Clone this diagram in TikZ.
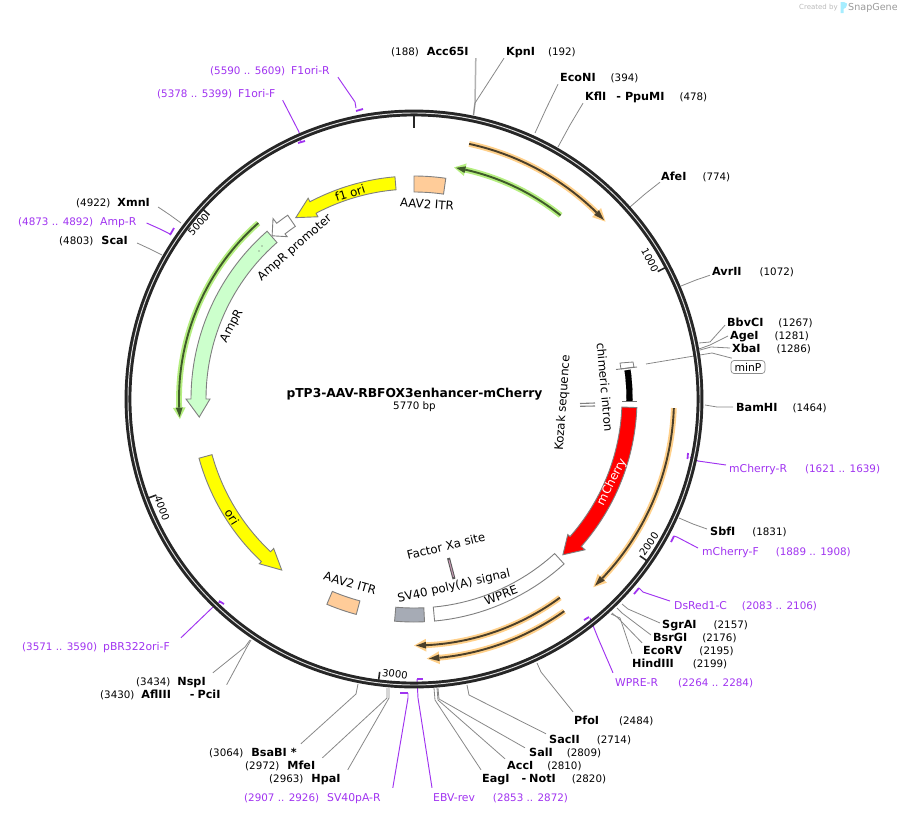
\documentclass[tikz,border=0pt]{standalone}
\usepackage{fontspec}
\setmainfont{DejaVu Sans}
\definecolor{ringc}{HTML}{262626}
\definecolor{purp}{HTML}{A033F0}
\definecolor{leadc}{HTML}{888888}
\definecolor{edgec}{HTML}{7F7F7F}
\definecolor{itrc}{HTML}{FFCC99}
\definecolor{ampc}{HTML}{CCFFCC}
\definecolor{polyc}{HTML}{A6ABB5}
\definecolor{orh}{HTML}{FFD08A}
\definecolor{orc}{HTML}{4A3F2A}
\definecolor{grh}{HTML}{B5EE80}
\definecolor{grc}{HTML}{3F5A2A}
\definecolor{pureyellow}{HTML}{FFFF00}
\definecolor{purered}{HTML}{FF0000}
\newcommand\nm[1]{{\fontsize{11.2}{13}\selectfont\bfseries #1}}
\newcommand\pn[1]{{\fontsize{10.35}{13}\selectfont #1}}
\newcommand\blockarrow[8][]{%
  \filldraw[blockedge,#1] plot[domain=#2:#3,samples=40] ({\x-90}:#6) -- ({#3-90}:#8)
   -- ({#4-90}:{(#5+#6)/2}) -- ({#3-90}:#7)
   -- plot[domain=#3:#2,samples=40] ({\x-90}:#5) -- cycle;}
\newcommand\arcbox[5][]{%
  \filldraw[blockedge,#1] plot[domain=#2:#3,samples=20] ({\x-90}:#5)
   -- plot[domain=#3:#2,samples=20] ({\x-90}:#4) -- cycle;}
\newcommand\thinarrow[5]{%
  \pgfmathsetmacro\hb{#2-ifthenelse(#2>#1,1,-1)*2.3}%
  \pgfmathsetmacro\hc{#2+ifthenelse(#2>#1,1,-1)*0.5}%
  \draw[#4,line width=5.8] plot[domain=#1:\hb,samples=40] ({\x-90}:#3);
  \fill[#4] ({\hb-90}:{#3+6.4}) -- ({\hc-90}:#3) -- ({\hb-90}:{#3-6.4}) -- cycle;
  \draw[#5,line width=1.9] plot[domain=#1:\hb,samples=40] ({\x-90}:#3);
  \fill[#5] ({\hb-90}:{#3+3.4}) -- ({#2-90}:#3) -- ({\hb-90}:{#3-3.4}) -- cycle;}
\newcommand\lead[5][leadline]{\coordinate (#2) at (#3); \draw[#1] (#2) -- (#4) -- (#5);}
\tikzset{
  leadline/.style={draw=leadc,line width=0.8pt},
  leadpale/.style={draw=black!30,line width=1.5pt},
  plead/.style={draw=purp,line width=0.95pt},
  ptick/.style={draw=purp,line width=1.8pt},
  blockedge/.style={draw=edgec,line width=0.9pt,line join=miter},
  sitelabel/.style={anchor=west,inner sep=0pt,text height=9pt,text depth=1pt,font=\fontsize{10.3}{13}\selectfont},
  primerlabel/.style={sitelabel,text=purp,font=\fontsize{10.8}{13}\selectfont},
  feat/.style={inner sep=0pt,font=\fontsize{11.8}{14}\selectfont},
  scale label/.style={inner sep=0pt,font=\fontsize{10}{12}\selectfont},
  major/.style={draw=ringc,line width=1.6pt},
}
\begin{document}
\begin{tikzpicture}[x=1pt,y=-1pt]
\useasboundingbox (0,0) rectangle (897,814);
% watermark
\node[inner sep=0pt,text=black!27,font=\fontsize{7}{8}\selectfont,anchor=west] (made) at (799,7.5) {Created by};
\fill[blue!20!cyan!35] (840.5,2) .. controls (843,1.5) and (846,2.5) .. (847,3.5) .. controls (847,7) and (845,9) .. (843.5,9) -- (843.5,13) -- (840.5,13) -- cycle;
\node[inner sep=0pt,text=black!40,font=\fontsize{9.6}{11}\selectfont,anchor=west] (snap) at (848,7.5) {SnapGene};
% labels of sites
\node[sitelabel] (acc) at (391,51) {(188)\hspace{8pt}\nm{Acc65I}};
\node[sitelabel] (kpn) at (506,51) {\nm{KpnI}\hspace{13pt}(192)};
\node[sitelabel] (eco) at (560,77) {\nm{EcoNI}\hspace{15pt}(394)};
\node[sitelabel] (kfl) at (585,96) {\nm{KflI}\hspace{10pt}\nm{-}\hspace{4pt}\nm{PpuMI}\hspace{15pt}(478)};
\node[sitelabel] (afe) at (661,176) {\nm{AfeI}\hspace{16pt}(774)};
\node[sitelabel] (avr) at (712,271) {\nm{AvrII}\hspace{18pt}(1072)};
\node[sitelabel] (bbv) at (727,322) {\nm{BbvCI}\hspace{15pt}(1267)};
\node[sitelabel] (age) at (730,335) {\nm{AgeI}\hspace{16pt}(1281)};
\node[sitelabel] (xba) at (732,348) {\nm{XbaI}\hspace{16pt}(1286)};
\node[draw=black!45,rounded corners=3pt,line width=0.7pt,inner xsep=3.5pt,inner ysep=2pt,text height=8.5pt,text depth=0.5pt,font=\fontsize{10.8}{13}\selectfont] (minp) at (748,367) {minP};
\node[sitelabel] (bam) at (736,407) {\nm{BamHI}\hspace{15pt}(1464)};
\node[primerlabel] (mcr) at (729,468) {mCherry-R\hspace{18pt}\pn{(1621 .. 1639)}};
\node[sitelabel] (sbf) at (710,531) {\nm{SbfI}\hspace{17pt}(1831)};
\node[primerlabel] (mcf) at (702,551) {mCherry-F\hspace{17pt}\pn{(1889 .. 1908)}};
\node[primerlabel] (dsr) at (674,605) {DsRed1-C\hspace{15pt}\pn{(2083 .. 2106)}};
\node[sitelabel] (sgr) at (662,624) {\nm{SgrAI}\hspace{17pt}(2157)};
\node[sitelabel] (bsr) at (653,637) {\nm{BsrGI}\hspace{15pt}(2176)};
\node[sitelabel] (ecv) at (643,650) {\nm{EcoRV}\hspace{17pt}(2195)};
\node[sitelabel] (hin) at (632,663) {\nm{HindIII}\hspace{19pt}(2199)};
\node[primerlabel] (wpr) at (615,682) {WPRE-R\hspace{20pt}\pn{(2264 .. 2284)}};
\node[sitelabel] (pfo) at (574,720) {\nm{PfoI}\hspace{20pt}(2484)};
\node[sitelabel] (sac) at (549,739) {\nm{SacII}\hspace{17pt}(2714)};
\node[sitelabel] (sal) at (529,752) {\nm{SalI}\hspace{14pt}(2809)};
\node[sitelabel] (acci) at (507,765) {\nm{AccI}\hspace{14pt}(2810)};
\node[sitelabel] (eag) at (482,778) {\nm{EagI}\hspace{12pt}\nm{-}\hspace{3pt}\nm{NotI}\hspace{16pt}(2820)};
\node[primerlabel] (ebv) at (433,797) {EBV-rev\hspace{18pt}\pn{(2853 .. 2872)}};
\node[primerlabel] (svp) at (244,797) {\pn{(2907 .. 2926)}\hspace{8pt}SV40pA-R};
\node[sitelabel] (hpa) at (269,778) {(2963)\hspace{8pt}\nm{HpaI}};
\node[sitelabel] (mfe) at (245,765) {(2972)\hspace{8pt}\nm{MfeI}};
\node[sitelabel] (bsa) at (209,752) {(3064)\hspace{8pt}\nm{BsaBI *}};
\node[sitelabel] (afl) at (100,694) {(3430)\hspace{7pt}\nm{AflIII}\hspace{19pt}\nm{-}\hspace{3pt}\nm{PciI}};
\node[sitelabel] (nsp) at (136,681) {(3434)\hspace{7pt}\nm{NspI}};
\node[primerlabel] (pbr) at (22,646) {\pn{(3571 .. 3590)}\hspace{6pt}pBR322ori-F};
\node[sitelabel] (sca) at (59,240) {(4803)\hspace{8pt}\nm{ScaI}};
\node[primerlabel] (ampr) at (18,221) {\pn{(4873 .. 4892)}\hspace{7pt}Amp-R};
\node[sitelabel] (xmn) at (76,202) {(4922)\hspace{7pt}\nm{XmnI}};
\node[primerlabel] (fof) at (157,93) {\pn{(5378 .. 5399)}\hspace{6pt}F1ori-F};
\node[primerlabel] (for) at (210,70) {\pn{(5590 .. 5609)}\hspace{6pt}F1ori-R};
% connectors (under the ring)
\lead[leadpale]{rAcc}{473.5,115}{475,103}{[shift={(7,2)}]acc.south east}
\lead{rKpn}{473.5,115}{475,103}{[shift={(-2,2)}]kpn.south west}
\lead{rEco}{535,133}{546,109}{[shift={(-2,2)}]eco.south west}
\lead{rKfl}{558,147}{570,125}{[shift={(-2,2)}]kfl.south west}
\lead{rAfe}{630,207}{645,194}{[shift={(-1,1)}]afe.south west}
\lead{rAvr}{681,286}{696,280}{[shift={(-2,-1)}]avr.south west}
\lead{rBbv}{699,343}{710,342}{[shift={(-2,-2)}]bbv.south west}
\lead{rAge}{699,349}{710,345}{[shift={(-2,1)}]age.west}
\lead{rXba}{700,350}{711,347}{[shift={(-2,0)}]xba.west}
\coordinate (mArr) at (646,364);
\draw[leadline] (mArr) -- (712,353) -- ([shift={(1,-2)}]minp.north west);
\lead{rBam}{705,405}{717,407}{[shift={(-3,0)}]bam.west}
\lead[plead]{rMcr}{690,457}{698,461}{[shift={(-3,-3)}]mcr.west}
\lead{rSbf}{679,518}{693,524}{[shift={(-3,-2)}]sbf.west}
\lead[plead]{rMcf}{674,536}{677,537}{[shift={(-4,-3)}]mcf.west}
\lead[plead]{rDsr}{639,588}{643,592}{[shift={(-4,-4)}]dsr.west}
\lead{rSgr}{622,604}{628,609}{[shift={(-2,-1)}]sgr.west}
\lead{rBsr}{617,608}{622,613}{[shift={(-2,-2)}]bsr.west}
\lead{rEcv}{612,613}{618,618}{[shift={(-1,-2)}]ecv.north west}
\lead{rHin}{611,614}{620,618}{[shift={(0,-4)}]hin.north west}
\lead[plead]{rWpr}{590,618}{598,638}{[shift={(-2,-4)}]wpr.north west}
\lead{rPfo}{537,663}{541,672}{[shift={(-1,-3)}]pfo.north west}
\lead{rSac}{467,685}{469,695}{[shift={(-3,0)}]sac.north west}
\lead{rSal}{438,688}{439,699}{[shift={(-4,1)}]sal.north west}
\lead{rAcci}{437,688}{438,700}{[shift={(-2,-1)}]acci.north west}
\lead{rEag}{434,688}{435,700}{[shift={(-1,-3)}]eag.north west}
\lead[plead]{rEbv}{417,679}{418,698}{[shift={(-1,-4)}]ebv.north west}
\lead[plead]{rSvp}{408,693}{408,698}{[shift={(12,-4)}]svp.north east}
\lead{rHpa}{389,688}{389,698}{[shift={(7,-3)}]hpa.north east}
\lead{rMfe}{387,688}{387,698}{[shift={(7,-2)}]mfe.north east}
\lead{rBsa}{358,684}{356,694}{[shift={(4,-3)}]bsa.north east}
\lead{rAfl}{251,640}{247,647}{[shift={(6,-4)}]afl.north east}
\lead{rNsp}{250,640}{245,647}{[shift={(7,-3)}]nsp.north east}
\lead[plead]{rPbr}{220,602}{213,607}{[shift={(11,-3)}]pbr.north east}
\lead{rSca}{162,255}{150,249}{[shift={(9,3)}]sca.east}
\lead[plead]{rAmpr}{170,234}{160,229}{[shift={(10,2)}]ampr.east}
\lead{rXmn}{181,223}{170,215}{[shift={(8,5)}]xmn.east}
\lead[plead]{rFof}{301,142}{299,132}{[shift={(7,2)}]fof.south east}
\lead[plead]{rFor}{356,108}{355,102}{[shift={(8,2)}]for.south east}
% primer ticks
\draw[ptick] (356,111) -- (363,109);
\draw[ptick] (298,143) -- (305,141);
\draw[ptick] (170,235) -- (174,228);
\draw[ptick] (219,601) -- (224,604);
\draw[ptick] (400,693) -- (408,693);
\draw[ptick] (417,679) -- (423,679);
\draw[ptick] (584,620) -- (589,617);
\draw[ptick] (634,594) -- (639,588);
\draw[ptick] (671,542) -- (674,536);
\draw[ptick] (688,453) -- (687.5,459);
% ring and features
\begin{scope}[shift={(414,399)}]
  \draw[ringc,line width=6.8pt] (0,0) circle [radius=286pt];
  \draw[white!88!black,line width=0.95pt] (0,0) circle [radius=286pt];
  \draw[ringc,line width=2.7pt] (-90:283) -- (-90:271);
  \foreach \p/\q in {62.39/a,124.78/b,187.17/c,249.56/d,311.95/e}
    \draw[major] ({\p-90}:283) -- ({\p-90}:275);
  % thin features
  \thinarrow{12.2}{46.7}{261}{orh}{orc}
  \thinarrow{38.6}{10.3}{235}{grh}{grc}
  \thinarrow{-41.5}{-94.4}{235}{grh}{grc}
  \thinarrow{92}{135.9}{260}{orh}{orc}
  \thinarrow{143.7}{179.5}{246.5}{orh}{orc}
  \thinarrow{144.7}{176.7}{260}{orh}{orc}
  % blocks
  \arcbox[fill=itrc]{0}{8.2}{207}{223}
  \arcbox[fill=itrc]{195}{203}{209}{223}
  \arcbox[fill=polyc]{177.3}{185}{209}{223}
  \arcbox[fill=white]{137.7}{174.7}{209}{223}
  \blockarrow[fill=pureyellow]{-4.9}{-27.8}{-33.1}{210}{223}{206}{227}
  \blockarrow[fill=white]{-34.5}{-38}{-41}{209.5}{223}{206}{229}
  \blockarrow[fill=ampc]{-41.2}{-90}{-94.8}{208}{223}{204}{228}
  \blockarrow[fill=pureyellow]{254.6}{223.2}{217.7}{209.5}{223}{205}{226}
  \blockarrow[fill=purered]{92.2}{131.4}{136.3}{208}{223}{205}{228}
  \arcbox[draw=black,fill=black,line width=0.1pt]{82.3}{90.5}{212.5}{218.5}
\end{scope}
% small marks
\fill[black!70] (259,251) circle (0.7);
\fill[black!70] (262,246) circle (0.7);
\draw[black!55,line width=1pt] (622,401) -- (637,401);
\filldraw[fill=white,draw=edgec,line width=0.8pt] (620,363) -- (633,362) -- (634,367) -- (621,369) -- cycle;
\draw[edgec,line width=0.9pt] (616,369.5) -- (637,367);
\draw[black!50,line width=1.1pt] (580,403.5) -- (595,403);
\draw[black!50,line width=1.1pt] (580,406.3) -- (595,406);
\draw[black!65,line width=3pt] (448.5,558) -- (454,579);
\draw[magenta!35!gray!70,line width=1pt] (449,560) -- (453.5,577);
% scale numbers
\node[scale label,rotate=-62.4] (t1) at (650,260) {1000};
\node[scale label,rotate=55.2] (t2) at (649,544) {2000};
\node[scale label,rotate=-7.2] (t3) at (395,674) {3000};
\node[scale label,rotate=-69.5] (t4) at (162,508) {4000};
\node[scale label,rotate=48] (t5) at (198.5,224.5) {5000};
% feature labels
\node[feat,rotate=-4] (itr1) at (427,204) {AAV2 ITR};
\node[feat,rotate=17] (f1) at (350,193) {f1 ori};
\node[feat,rotate=41] (ampp) at (295,248) {AmpR promoter};
\node[feat,rotate=62] (ampl) at (232,326) {AmpR};
\node[feat,rotate=-58] (ori) at (232,517) {ori};
\node[feat,rotate=-16] (itr2) at (350,583) {AAV2 ITR};
\node[feat,rotate=13] (sv) at (454,586.5) {SV40 poly(A) signal};
\node[feat,rotate=21] (wp) at (501,595) {WPRE};
\node[feat,rotate=13.5] (fx) at (446,546) {Factor Xa site};
\node[feat,rotate=63,text=white] (mch) at (612,482) {mCherry};
\node[feat,rotate=-85] (chi) at (605,387) {chimeric intron};
\node[feat,rotate=86] (koz) at (563,403) {Kozak sequence};
% centre
\node[inner sep=0pt,font=\fontsize{12.3}{14}\selectfont\bfseries] (title) at (414.5,394) {pTP3-AAV-RBFOX3enhancer-mCherry};
\node[inner sep=0pt,font=\fontsize{10.3}{12}\selectfont] (size) at (414.5,407) {5770 bp};
\end{tikzpicture}
\end{document}
